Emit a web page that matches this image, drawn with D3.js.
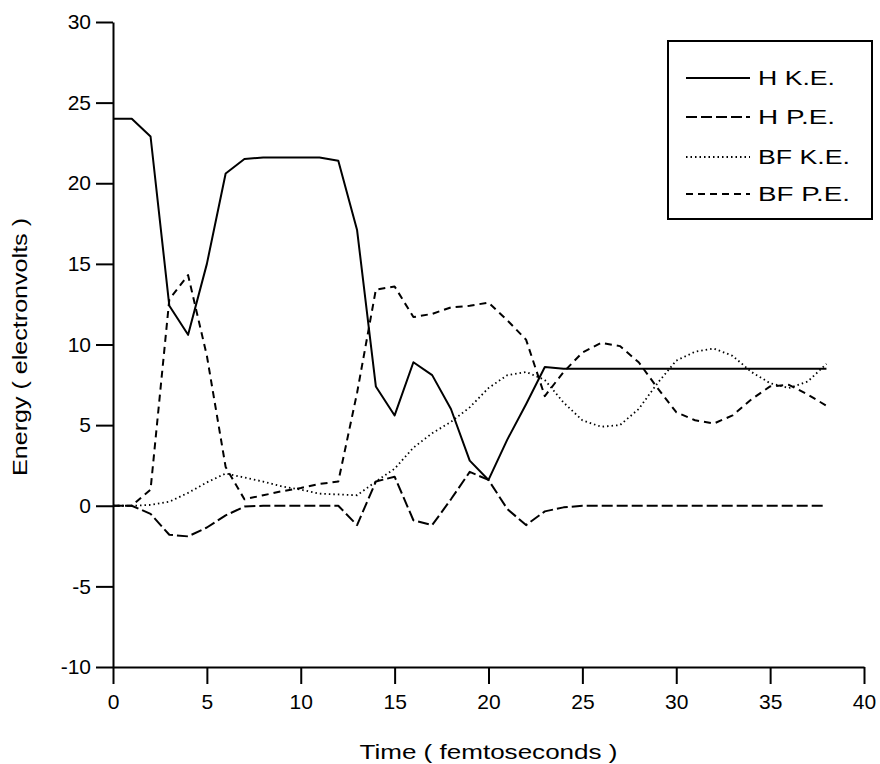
<!DOCTYPE html>
<html>
<head>
<meta charset="utf-8">
<script src="https://cdn.jsdelivr.net/npm/d3@7"></script>
<style>
    body { margin: 0; background: #fff; }
    svg text { font-family: "Liberation Sans", Arial, Helvetica, sans-serif; fill: #000; }
</style>
</head>
<body>
<div id="chart"></div>
<script>

// time steps (femtoseconds)
var times = d3.range(0, 39);

// energies (electronvolts), one value per femtosecond
var hKE = [24, 24, 22.9, 12.4, 10.6, 15.0, 20.6, 21.5, 21.6, 21.6,
    21.6, 21.6, 21.4, 17.1, 7.4, 5.6, 8.9, 8.1, 6.0, 2.8,
    1.6, 4.1, 6.3, 8.6, 8.5, 8.5, 8.5, 8.5, 8.5, 8.5,
    8.5, 8.5, 8.5, 8.5, 8.5, 8.5, 8.5, 8.5, 8.5];

var hPE = [0, 0, -0.5, -1.8, -1.9, -1.35, -0.6, -0.05, 0, 0,
    0, 0, 0, -1.2, 1.5, 1.8, -0.9, -1.2, 0.4, 2.1,
    1.6, -0.2, -1.2, -0.35, -0.1, 0, 0, 0, 0, 0,
    0, 0, 0, 0, 0, 0, 0, 0, 0];

var bfKE = [0, 0, 0.05, 0.25, 0.8, 1.45, 2.0, 1.75, 1.5, 1.2,
    1.0, 0.75, 0.7, 0.65, 1.5, 2.3, 3.6, 4.5, 5.2, 6.1,
    7.3, 8.1, 8.3, 7.8, 6.4, 5.3, 4.9, 5.0, 6.0, 7.6,
    9.0, 9.55, 9.75, 9.3, 8.3, 7.6, 7.3, 7.7, 8.8];

var bfPE = [0, 0, 1.0, 12.8, 14.3, 9.3, 2.4, 0.4, 0.65, 0.9,
    1.1, 1.35, 1.5, 7.0, 13.4, 13.6, 11.7, 11.9, 12.3, 12.4,
    12.6, 11.5, 10.3, 6.8, 8.3, 9.5, 10.1, 9.9, 8.9, 7.3,
    5.8, 5.3, 5.1, 5.6, 6.6, 7.4, 7.5, 6.9, 6.2];

var seriesNames = ["H K.E.", "H P.E.", "BF K.E.", "BF P.E."];
var seriesValues = [hKE, hPE, bfKE, bfPE];

var xTicks = [0, 5, 10, 15, 20, 25, 30, 35, 40];
var yTicks = [-10, -5, 0, 5, 10, 15, 20, 25, 30];

// line styles
var dashMap = {
    "H K.E.": null,
    "H P.E.": "11,4",
    "BF K.E.": "1.5,3",
    "BF P.E.": "7,5"
};
var widthMap = {
    "H K.E.": 2,
    "H P.E.": 2,
    "BF K.E.": 1.8,
    "BF P.E.": 2
};

var width = 880,
    height = 764;

var svg = d3.select("#chart").append("svg")
    .attr("width", width)
    .attr("height", height);

var x = d3.scaleLinear().domain([0, 40]).range([113, 864]);
var y = d3.scaleLinear().domain([-10, 30]).range([667, 22]);

// plain hyphen for negatives, like the original
var plainFormat = function(d) { return String(d); };

// axes
var xAxis = d3.axisBottom(x)
    .tickValues(xTicks)
    .tickFormat(plainFormat)
    .tickSize(17)
    .tickSizeOuter(0)
    .tickPadding(10);

var yAxis = d3.axisLeft(y)
    .tickValues(yTicks)
    .tickFormat(plainFormat)
    .tickSize(17)
    .tickSizeOuter(0)
    .tickPadding(5);

var gx = svg.append("g")
    .attr("transform", "translate(0," + y(-10) + ")")
    .call(xAxis);

var gy = svg.append("g")
    .attr("transform", "translate(" + x(0) + ",0)")
    .call(yAxis);

[gx, gy].forEach(function(g) {
    g.select(".domain").attr("stroke", "#000").attr("stroke-width", 2);
    g.selectAll(".tick line").attr("stroke", "#000").attr("stroke-width", 2);
    g.selectAll(".tick text")
        .attr("fill", "#000")
        .style("font-size", "21px");
});

// lines
var line = d3.line()
    .x(function(d) { return x(d.t); })
    .y(function(d) { return y(d.v); });

seriesNames.forEach(function(name, i) {
    var pts = times.map(function(t, j) { return { t: t, v: seriesValues[i][j] }; });
    svg.append("path")
        .datum(pts)
        .attr("fill", "none")
        .attr("stroke", "#000")
        .attr("stroke-width", widthMap[name])
        .attr("stroke-dasharray", dashMap[name])
        .attr("stroke-linejoin", "round")
        .attr("d", line);
});

// axis titles
svg.append("text")
    .attr("x", (x(0) + x(40)) / 2)
    .attr("y", 759)
    .attr("text-anchor", "middle")
    .attr("textLength", 258)
    .attr("lengthAdjust", "spacingAndGlyphs")
    .style("font-size", "21px")
    .text("Time ( femtoseconds )");

svg.append("text")
    .attr("transform", "translate(27,347) rotate(-90)")
    .attr("text-anchor", "middle")
    .attr("textLength", 258)
    .attr("lengthAdjust", "spacingAndGlyphs")
    .style("font-size", "21px")
    .text("Energy ( electronvolts )");

// legend
var legend = svg.append("g");

legend.append("rect")
    .attr("x", 668)
    .attr("y", 41)
    .attr("width", 204)
    .attr("height", 178)
    .attr("fill", "#fff")
    .attr("stroke", "#000")
    .attr("stroke-width", 2);

var legendRows = [78, 117, 157, 194];
var legendLengths = [77, 77, 92, 92];

seriesNames.forEach(function(name, i) {
    legend.append("line")
        .attr("x1", 686)
        .attr("x2", 750)
        .attr("y1", legendRows[i])
        .attr("y2", legendRows[i])
        .attr("stroke", "#000")
        .attr("stroke-width", widthMap[name])
        .attr("stroke-dasharray", dashMap[name]);

    legend.append("text")
        .attr("x", 758)
        .attr("y", legendRows[i] + 7)
        .attr("textLength", legendLengths[i])
        .attr("lengthAdjust", "spacingAndGlyphs")
        .style("font-size", "20px")
        .text(name);
});

</script>
</body>
</html>
